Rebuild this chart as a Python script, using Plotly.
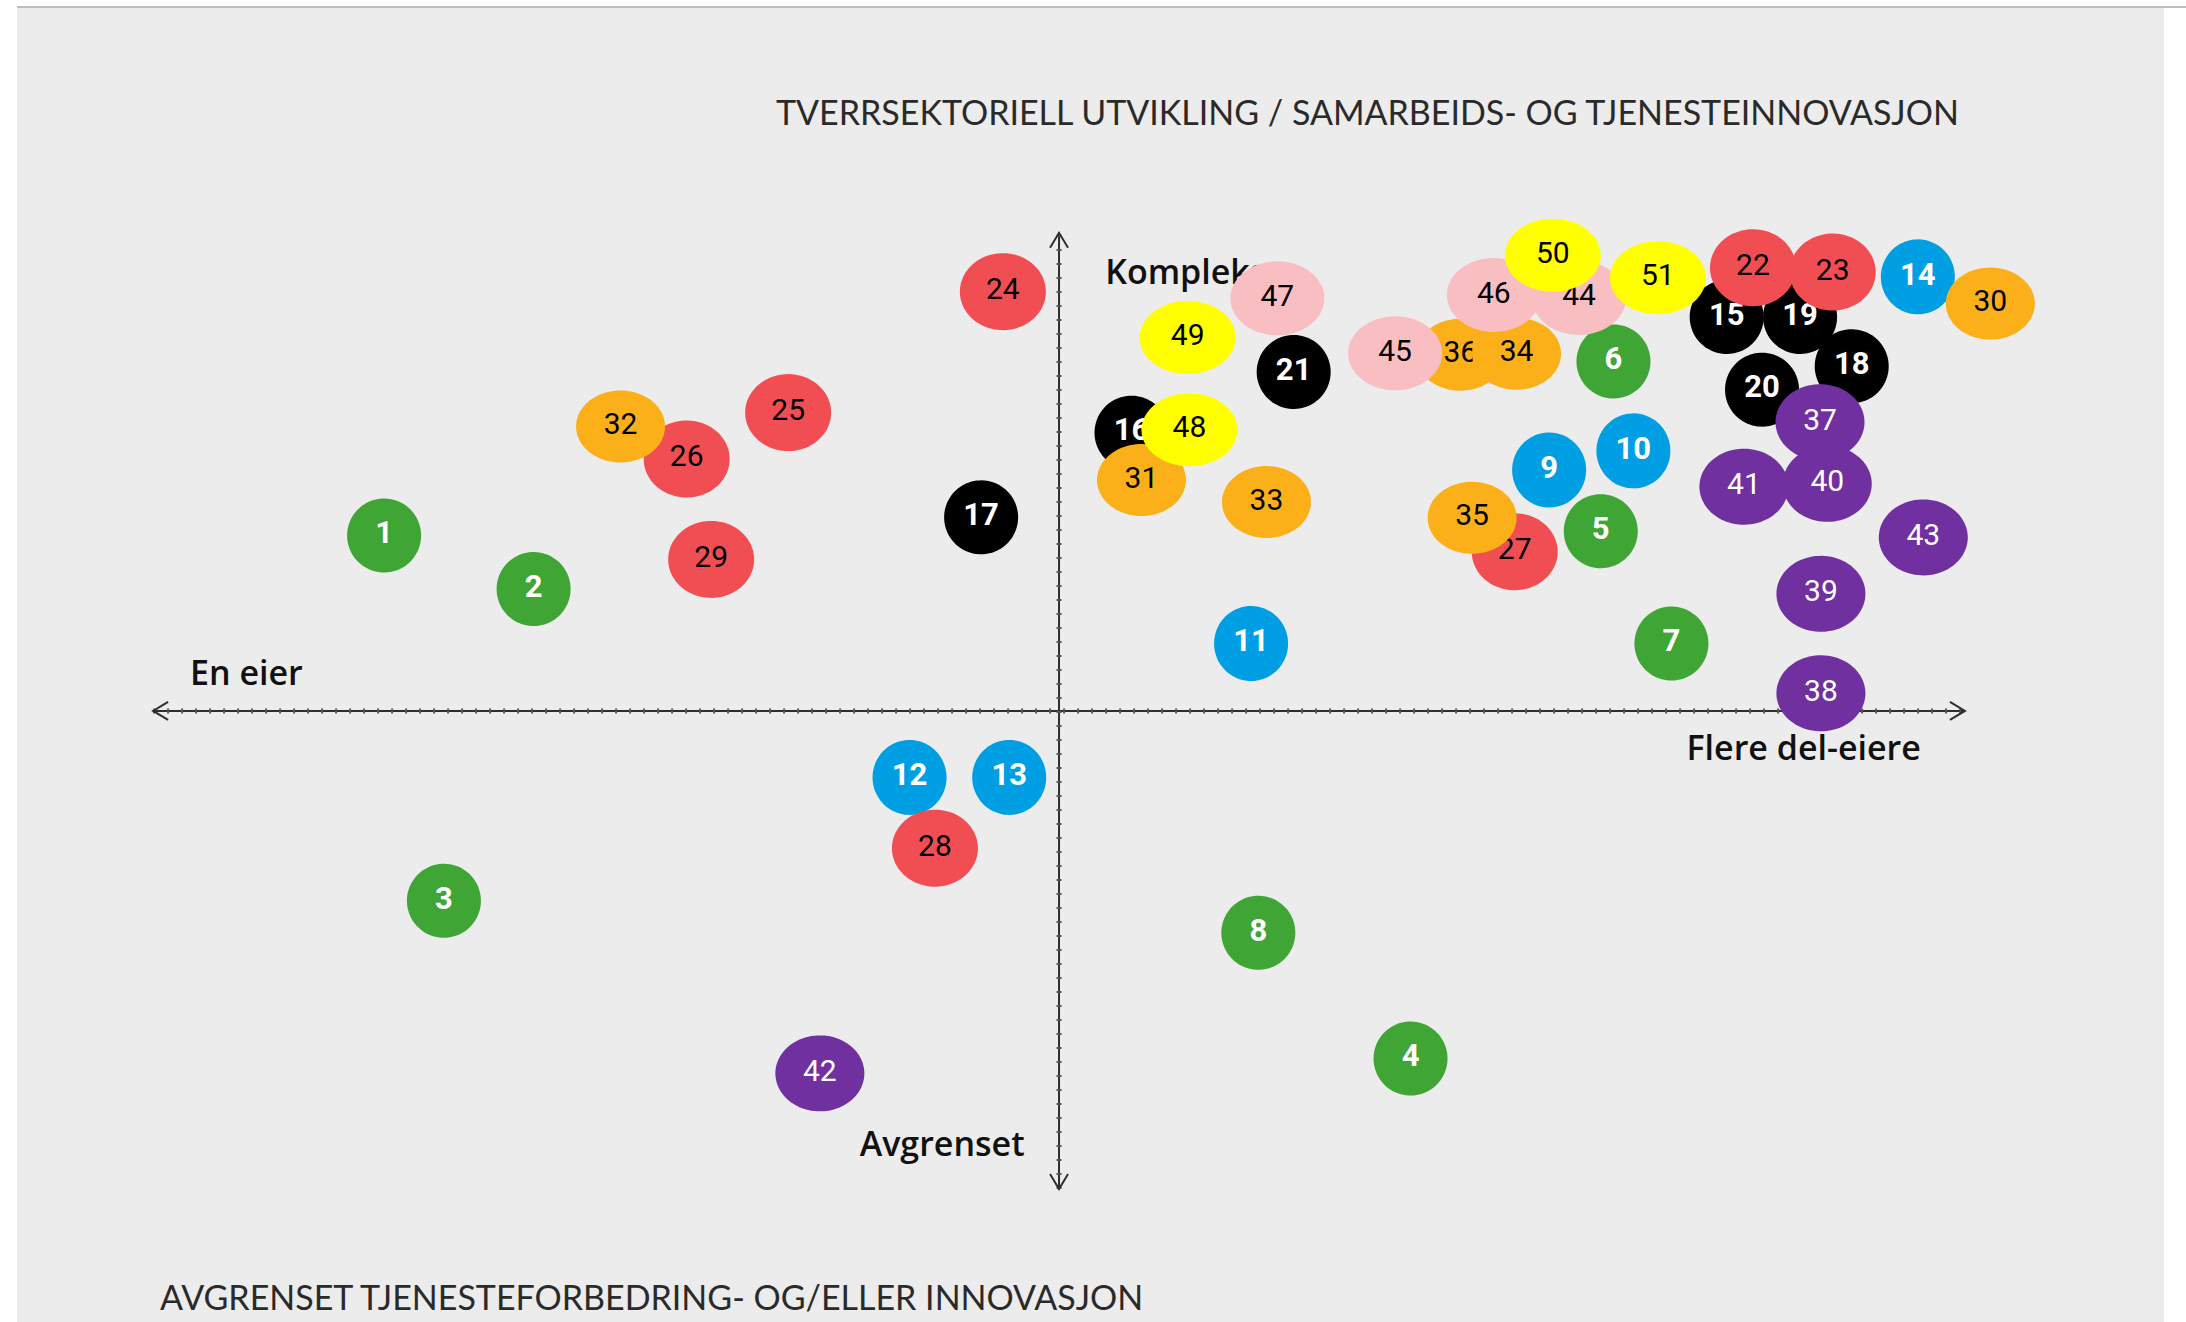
import numpy as np
import plotly.graph_objects as go

# ---------------- data ----------------
labels = list(range(1, 52))
x_pos = [-7.45, -5.80, -6.79, 3.88, 5.98, 6.12, 6.76, 2.20,          # 1-8
         5.41, 6.34, 2.12, -1.65, -0.55, 9.48,                       # 9-14
         7.37, 0.80, -0.86, 8.75, 8.18, 7.76, 2.59,                  # 15-21
         7.66, 8.54, -0.62, -2.99, -4.11, 5.03, -1.37, -3.84,        # 22-29
         10.28, 0.91, -4.84, 2.29, 5.05, 4.56, 4.43,                 # 30-36
         8.40, 8.41, 8.41, 8.48, 7.56, -2.64, 9.54,                  # 37-43
         5.74, 3.71, 4.80, 2.41,                                     # 44-47
         1.44, 1.42, 5.45, 6.61]                                     # 48-51
y_pos = [3.67, 2.55, -3.97, -7.27, 3.76, 7.31, 1.41, -4.64,
         5.04, 5.44, 1.41, -1.39, -1.39, 9.08,
         8.24, 5.82, 4.05, 7.21, 8.24, 6.72, 7.09,
         9.27, 9.18, 8.77, 6.24, 5.27, 3.33, -2.87, 3.17,
         8.52, 4.83, 5.95, 4.37, 7.47, 4.04, 7.45,
         6.04, 0.37, 2.45, 4.75, 4.69, -7.58, 3.63,
         8.64, 7.48, 8.70, 8.63,
         5.88, 7.81, 9.53, 9.06]
groups = (["green"] * 8 + ["blue"] * 6 + ["black"] * 7 + ["red"] * 8 +
          ["orange"] * 7 + ["purple"] * 7 + ["pink"] * 4 + ["yellow"] * 4)

axis_labels = ["Kompleks", "En eier", "Flere del-eiere", "Avgrenset"]
top_title = "TVERRSEKTORIELL UTVIKLING / SAMARBEIDS- OG TJENESTEINNOVASJON"
bottom_title = "AVGRENSET TJENESTEFORBEDRING- OG/ELLER INNOVASJON"

# ---------------- styles ----------------
W, H = 2186, 1322
X_RANGE = [-11.69, 12.44]
Y_RANGE = [-12.78, 14.87]
PX_X = W / (X_RANGE[1] - X_RANGE[0])
PX_Y = H / (Y_RANGE[1] - Y_RANGE[0])

style = {
    "green":  dict(fill="#3fa535", txt="white", weight="bold", size=31, w=74, h=74),
    "blue":   dict(fill="#009fe3", txt="white", weight="bold", size=31, w=74, h=75),
    "black":  dict(fill="#000000", txt="white", weight="bold", size=31, w=74, h=74),
    "red":    dict(fill="#f14e54", txt="black", weight="normal", size=30, w=86, h=77),
    "orange": dict(fill="#fbb01a", txt="black", weight="normal", size=30, w=89, h=72),
    "purple": dict(fill="#7030a0", txt="white", weight="normal", size=30, w=89, h=76),
    "pink":   dict(fill="#f9bec1", txt="black", weight="normal", size=30, w=94, h=74),
    "yellow": dict(fill="#ffff00", txt="black", weight="normal", size=30, w=96, h=73),
}
# drawing order (34 sits above 36 in the reference)
draw_order = sorted(range(len(labels)), key=lambda i: labels[i] if labels[i] != 34 else 36.5)

fig = go.Figure()

# axis labels (drawn first so bubbles may cover them)
lab_x = [0.51, -8.97, 8.22, -1.29]
lab_y = [9.10, 0.73, -0.84, -9.14]
lab_pos = ["middle right", "middle center", "middle center", "middle center"]
fig.add_trace(go.Scatter(
    x=lab_x, y=lab_y, text=axis_labels, mode="text", textposition=lab_pos,
    textfont=dict(family="Open Sans", size=34, color="#111111", weight=600),
    hoverinfo="skip", showlegend=False))

t = np.linspace(0, 2 * np.pi, 90)
for i in draw_order:
    s = style[groups[i]]
    cx, cy = x_pos[i], y_pos[i]
    fig.add_trace(go.Scatter(
        x=cx + (s["w"] / 2) / PX_X * np.cos(t),
        y=cy + (s["h"] / 2) / PX_Y * np.sin(t),
        mode="none", fill="toself", fillcolor=s["fill"],
        hoverinfo="skip", showlegend=False))
    fig.add_trace(go.Scatter(
        x=[cx], y=[cy], text=[str(labels[i])], mode="text",
        textposition="middle center",
        textfont=dict(family="Roboto", size=s["size"], color=s["txt"], weight=s["weight"]),
        hoverinfo="skip", showlegend=False))

AX = "#2e2e2e"
shapes = [
    dict(type="rect", xref="paper", yref="paper", x0=17 / W, x1=2164 / W, y0=0, y1=1 - 8 / H,
         fillcolor="#ececec", line=dict(width=0), layer="below"),
    dict(type="line", xref="paper", yref="paper", x0=17 / W, x1=1, y0=1 - 7 / H, y1=1 - 7 / H,
         line=dict(color="#bdbdbd", width=2), layer="below"),
    dict(type="line", xref="x", yref="y", x0=-10, x1=10, y0=0, y1=0,
         line=dict(color=AX, width=2), layer="below"),
    dict(type="line", xref="x", yref="y", x0=0, x1=0, y0=-10, y1=10,
         line=dict(color=AX, width=2), layer="below"),
    dict(type="line", xref="x", yref="y", x0=-10, x1=10, y0=0, y1=0,
         line=dict(color="#555555", width=5, dash="2px,12px"), layer="below"),
    dict(type="line", xref="x", yref="y", x0=0, x1=0, y0=-10, y1=10,
         line=dict(color="#555555", width=5, dash="2px,12px"), layer="below"),
]
chev = [(10, 0, "M-15,9L0,0L-15,-9"), (-10, 0, "M15,9L0,0L15,-9"),
        (0, 10, "M-9,-15L0,0L9,-15"), (0, -10, "M-9,15L0,0L9,15")]
for ax_, ay_, p in chev:
    shapes.append(dict(type="path", xref="x", yref="y", xsizemode="pixel", ysizemode="pixel",
                       xanchor=ax_, yanchor=ay_, path=p, line=dict(color=AX, width=2),
                       layer="below"))

annotations = [
    dict(text=top_title, xref="paper", yref="paper", x=774 / W, y=1 - 112 / H,
         xanchor="left", yanchor="middle", showarrow=False,
         font=dict(family="Lato", size=34, color="#2a2a2a", weight=400)),
    dict(text=bottom_title, xref="paper", yref="paper", x=158 / W, y=1 - 1296 / H,
         xanchor="left", yanchor="middle", showarrow=False,
         font=dict(family="Lato", size=34, color="#2a2a2a", weight=400)),
]

fig.update_layout(
    width=W, height=H, margin=dict(l=0, r=0, t=0, b=0, pad=0),
    paper_bgcolor="white", plot_bgcolor="rgba(0,0,0,0)", showlegend=False,
    xaxis=dict(range=X_RANGE, visible=False, fixedrange=True),
    yaxis=dict(range=Y_RANGE, visible=False, fixedrange=True),
    shapes=shapes, annotations=annotations, hovermode=False,
)

fig.write_html("out.html", config={"displayModeBar": False},
               post_script="document.body.style.margin='0';")
